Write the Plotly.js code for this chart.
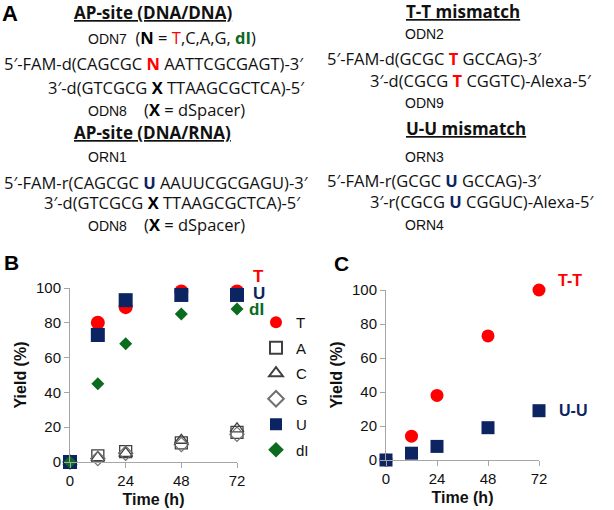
<!DOCTYPE html>
<html>
<head>
<meta charset="utf-8">
<script src="https://cdn.plot.ly/plotly-3.0.1.min.js"></script>
<style>
  html, body { margin: 0; padding: 0; background: #fff; }
  #chart { width: 614px; height: 510px; }
</style>
</head>
<body>
<div id="chart"></div>
<script>
var hours = [0, 12, 24, 48, 72];
var yieldT = [0, 80, 89, 98, 98];
var yieldA = [0, 3.5, 6, 11, 17];
var yieldC = [0, 2.5, 5, 12.5, 19];
var yieldG = [0, 2, 5, 10, 16];
var yieldU = [0, 73, 93, 96, 96];
var yieldDI = [0, 45, 68, 85, 88];
var yieldTT = [0, 14, 38, 73, 100];
var yieldUU = [0, 4, 8, 19, 29];

var timeTicks = [0, 24, 48, 72];
var yieldTicks = [0, 20, 40, 60, 80, 100];

var RED = "#ff0000", NAVY = "#0c2461", GREEN = "#0b6b1f", GREY = "#404040";
var SEQ = "Open Sans, Noto Sans, sans-serif";
var ARIAL = "Liberation Sans, Arial, sans-serif";

function pts(name, ys, xa, ya, marker) {
  return {
    x: hours, y: ys, xaxis: xa, yaxis: ya, name: name, type: "scatter", mode: "markers",
    marker: marker, cliponaxis: false, legendgroup: name,
    showlegend: xa === "x"
  };
}

var data = [
  pts("T", yieldT, "x", "y", {symbol: "circle", size: 14, color: RED}),
  pts("A", yieldA, "x", "y", {symbol: "square-open", size: 12, color: GREY, line: {width: 1.3}}),
  pts("C", yieldC, "x", "y", {symbol: "triangle-up-open", size: 12, color: GREY, line: {width: 1.3}}),
  pts("G", yieldG, "x", "y", {symbol: "diamond-open", size: 11, color: "#707070", line: {width: 1.2}}),
  pts("U", yieldU, "x", "y", {symbol: "square", size: 14, color: NAVY}),
  pts("dI", yieldDI, "x", "y", {symbol: "diamond", size: 10, color: GREEN}),
  pts("T-T", yieldTT, "x2", "y2", {symbol: "circle", size: 13, color: RED}),
  pts("U-U", yieldUU, "x2", "y2", {symbol: "square", size: 13, color: NAVY})
];

function xAxis(dom, anchor) {
  return {
    domain: dom, anchor: anchor, range: [0, 72], tickvals: timeTicks,
    showline: true, linecolor: "#a6a6a6", linewidth: 1, showgrid: false, zeroline: false,
    ticks: "outside", ticklen: 5, tickcolor: "#a6a6a6",
    tickfont: {family: ARIAL, size: 15, color: "#111"},
    title: {text: "<b>Time (h)</b>", font: {family: ARIAL, size: 16, color: "#111"}, standoff: 5}
  };
}
function yAxis(dom, anchor) {
  return {
    domain: dom, anchor: anchor, range: [0, 100], tickvals: yieldTicks,
    showline: true, linecolor: "#a6a6a6", linewidth: 1, showgrid: false, zeroline: false,
    ticks: "outside", ticklen: 5, tickcolor: "#a6a6a6",
    tickfont: {family: ARIAL, size: 15, color: "#111"},
    title: {text: "<b>Yield (%)</b>", font: {family: ARIAL, size: 16, color: "#111"}, standoff: 5}
  };
}

function P(px) { return 1 - px / 510; }
function txt(x, y, text, opts) {
  var a = {
    xref: "paper", yref: "paper", x: x / 614, y: P(y), text: text, showarrow: false,
    xanchor: "left", yanchor: "middle", font: {family: SEQ, size: 16.5, color: "#111"}
  };
  for (var k in opts) a[k] = opts[k];
  return a;
}
function head(x, y, text) {
  return txt(x, y, '<span style="text-decoration:underline">' + text + '</span>',
    {font: {family: SEQ, size: 17, color: "#111"}});
}
function lbl(x, y, text) {
  return txt(x, y, text, {font: {family: ARIAL, size: 14, color: "#111"}});
}
function b(t, c) { return '<b><span style="color:' + c + '">' + t + '</span></b>'; }
var odn = function (t) { return '<span style="font-family:' + ARIAL + ';font-size:14px">' + t + '</span>'; };

var annotations = [
  // panel letters
  txt(0, 13, "<b>A</b>", {font: {family: ARIAL, size: 22, color: "#000"}}),
  txt(2, 262, "<b>B</b>", {font: {family: ARIAL, size: 21, color: "#000"}}),
  txt(332, 263, "<b>C</b>", {font: {family: ARIAL, size: 21, color: "#000"}}),

  // left column sequences
  head(72, 12, "<b>AP-site (DNA/DNA)</b>"),
  txt(86, 38, odn("ODN7") + "  (" + b("N", "#000") + " = " +
    '<span style="color:' + RED + '">T</span>,C,A,G, ' + b("dI", GREEN) + ")"),
  txt(2, 63, "5′-FAM-d(CAGCGC " + b("N", RED) + " AATTCGCGAGT)-3′"),
  txt(46, 87, "3′-d(GTCGCG " + b("X", "#000") + " TTAAGCGCTCA)-5′"),
  txt(86, 109, odn("ODN8") + "    (" + b("X", "#000") + " = dSpacer)"),
  head(72, 133, "<b>AP-site (DNA/RNA)</b>"),
  lbl(86, 157, "ORN1"),
  txt(2, 182, "5′-FAM-r(CAGCGC " + b("U", NAVY) + " AAUUCGCGAGU)-3′"),
  txt(42, 203, "3′-d(GTCGCG " + b("X", "#000") + " TTAAGCGCTCA)-5′"),
  txt(86, 224, odn("ODN8") + "    (" + b("X", "#000") + " = dSpacer)"),

  // right column sequences
  head(404, 11, "<b>T-T mismatch</b>"),
  lbl(403, 34, "ODN2"),
  txt(325, 58, "5′-FAM-d(GCGC " + b("T", RED) + " GCCAG)-3′"),
  txt(368, 80, "3′-d(CGCG " + b("T", RED) + " CGGTC)-Alexa-5′"),
  lbl(403, 103, "ODN9"),
  head(404, 128, "<b>U-U mismatch</b>"),
  lbl(403, 157, "ORN3"),
  txt(325, 180, "5′-FAM-r(GCGC " + b("U", NAVY) + " GCCAG)-3′"),
  txt(368, 202, "3′-r(CGCG " + b("U", NAVY) + " CGGUC)-Alexa-5′"),
  lbl(403, 225, "ORN4"),

  // series labels on the plots
  {xref: "x", yref: "y", x: 72, y: yieldT[4], text: "<b>T</b>", showarrow: false, xanchor: "left",
   xshift: 14, yshift: 15, font: {family: ARIAL, size: 17, color: RED}},
  {xref: "x", yref: "y", x: 72, y: yieldT[4], text: "<b>U</b>", showarrow: false, xanchor: "left",
   xshift: 14, yshift: -2, font: {family: ARIAL, size: 17, color: NAVY}},
  {xref: "x", yref: "y", x: 72, y: yieldT[4], text: "<b>dI</b>", showarrow: false, xanchor: "left",
   xshift: 10, yshift: -18, font: {family: ARIAL, size: 17, color: GREEN}},
  {xref: "x2", yref: "y2", x: 72, y: yieldTT[4], text: "<b>T-T</b>", showarrow: false, xanchor: "left",
   xshift: 17, yshift: 10, font: {family: ARIAL, size: 16, color: RED}},
  {xref: "x2", yref: "y2", x: 72, y: yieldUU[4], text: "<b>U-U</b>", showarrow: false, xanchor: "left",
   xshift: 18, yshift: 0, font: {family: ARIAL, size: 16, color: NAVY}}
];

var layout = {
  width: 614, height: 510,
  margin: {l: 0, r: 0, t: 0, b: 0},
  paper_bgcolor: "#fff", plot_bgcolor: "rgba(0,0,0,0)",
  xaxis: xAxis([70 / 614, 237 / 614], "y"),
  yaxis: yAxis([48 / 510, 222 / 510], "x"),
  xaxis2: xAxis([386 / 614, 539 / 614], "y2"),
  yaxis2: yAxis([50 / 510, 220 / 510], "x2"),
  showlegend: true,
  legend: {
    x: 256 / 614, y: P(306), xanchor: "left", yanchor: "top",
    font: {family: ARIAL, size: 15, color: "#111"},
    bgcolor: "rgba(0,0,0,0)", tracegroupgap: 3, traceorder: "grouped",
    itemsizing: "constant"
  },
  annotations: annotations
};

Plotly.newPlot("chart", data, layout, {displayModeBar: false, staticPlot: true});
</script>
</body>
</html>
